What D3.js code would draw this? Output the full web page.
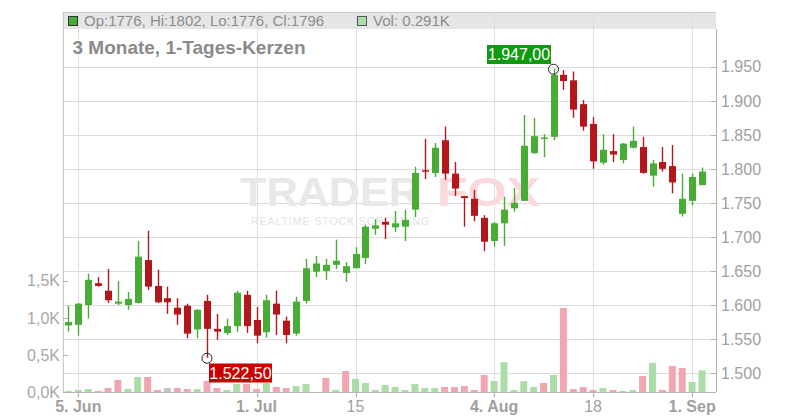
<!DOCTYPE html>
<html><head><meta charset="utf-8">
<script src="https://cdn.jsdelivr.net/npm/d3@7"></script>
<style>body{margin:0;background:#fff}svg{display:block;font-family:"Liberation Sans",Arial,sans-serif}</style>
</head><body>
<svg id="c" width="800" height="420"></svg>
<script>
const dates = ["2025-06-04","2025-06-05","2025-06-06","2025-06-09","2025-06-10","2025-06-11","2025-06-12","2025-06-13","2025-06-16","2025-06-17","2025-06-18","2025-06-19","2025-06-20","2025-06-23","2025-06-24","2025-06-25","2025-06-26","2025-06-27","2025-06-30",
"2025-07-01","2025-07-02","2025-07-03","2025-07-04","2025-07-07","2025-07-08","2025-07-09","2025-07-10","2025-07-11","2025-07-14","2025-07-15","2025-07-16","2025-07-17","2025-07-18","2025-07-21","2025-07-22","2025-07-23","2025-07-24","2025-07-25","2025-07-28","2025-07-29","2025-07-30","2025-07-31",
"2025-08-01","2025-08-04","2025-08-05","2025-08-06","2025-08-07","2025-08-08","2025-08-11","2025-08-12","2025-08-13","2025-08-14","2025-08-15","2025-08-18","2025-08-19","2025-08-20","2025-08-21","2025-08-22","2025-08-25","2025-08-26","2025-08-27","2025-08-28","2025-08-29",
"2025-09-01","2025-09-02"];
const open  = [1570,1571,1600,1632,1621,1602,1600,1603,1666,1628,1610,1596,1599,1564,1606,1565,1559,1569,1615,1578,1560,1602,1577,1558,1606,1649,1650,1659,1647,1654,1669,1712,1722,1714,1715,1740,1798,1794,1842,1793,1760,1756,1728,1694,1720,1742,1753,1823,1844,1847,1938,1930,1895,1866,1809,1826,1813,1831,1832,1790,1810,1804,1734,1753,1776];
const high  = [1599,1603,1646,1641,1653,1635,1619,1694,1709,1652,1627,1610,1602,1594,1615,1587,1580,1621,1621,1597,1615,1621,1583,1612,1668,1672,1668,1696,1663,1685,1718,1726,1728,1738,1740,1803,1844,1838,1862,1810,1760,1769,1732,1722,1759,1772,1879,1875,1851,1947,1945,1943,1901,1876,1851,1851,1838,1862,1847,1813,1832,1835,1793,1793,1802];
const low   = [1561,1555,1580,1627,1603,1600,1593,1602,1622,1603,1587,1571,1551,1551,1522.5,1549,1556,1560,1559,1544,1552,1556,1544,1555,1602,1641,1637,1653,1634,1654,1660,1703,1697,1707,1694,1729,1785,1788,1784,1760,1715,1723,1679,1686,1687,1737,1753,1822,1817,1842,1916,1875,1856,1800,1806,1810,1808,1830,1793,1774,1796,1764,1730,1746,1776];
const close = [1575,1602,1637,1628,1607,1605,1609,1671,1627,1604,1604,1586,1558,1593,1565,1561,1569,1618,1569,1555,1607,1586,1556,1605,1654,1661,1659,1665,1657,1675,1715,1717,1718,1720,1725,1794,1796,1831,1793,1771,1757,1731,1693,1720,1740,1750,1834,1848,1846,1938,1929,1887,1862,1811,1828,1821,1837,1841,1794,1808,1800,1780,1756,1788,1796];
const volume= [13,27,40,13,54,162,40,202,202,27,54,54,40,40,148,54,27,108,108,40,121,67,54,81,108,0,190,28,283,175,121,28,94,67,27,108,54,54,67,67,81,27,229,148,404,27,148,67,121,229,1132,40,67,27,54,27,13,27,216,391,27,350,323,135,291];
const prevClose = 1570;
const priceTicks = [1500,1550,1600,1650,1700,1750,1800,1850,1900,1950];
const volTicks = [0,500,1000,1500];
const dateTicks = ["2025-06-05","2025-07-01","2025-07-15","2025-08-04","2025-08-18","2025-09-01"];
const dateTickLabels = ["5. Jun","1. Jul","15","4. Aug","18","1. Sep"];
const dateTickBold = [true,true,false,true,false,true];
const hiMark = {date:"2025-08-12", value:1947, label:"1.947,00"};
const loMark = {date:"2025-06-24", value:1522.5, label:"1.522,50"};
const legendText = "Op:1776, Hi:1802, Lo:1776, Cl:1796";
const volLegendText = "Vol: 0.291K";
const title = "3 Monate, 1-Tages-Kerzen";

const svg = d3.select("#c");
const L = 63.3, R = 716, B = 392, LT = 12, LB = 29;
const GREEN = "#47ad34", RED = "#b3161b", VGREEN = "#acdca8", VRED = "#f0a7b0", VGRAY = "#c2c2c2";
const GRID = "#dcdcdc";

const x = d3.scaleLinear().domain([0, dates.length - 1]).range([68.4, 702]);
const xd = d => x(dates.indexOf(d));
const y = d3.scaleLinear().domain([1500, 1950]).range([373.1, 66.7]);
const yv = d3.scaleLinear().domain([0, 1500]).range([B, B - 111.3]);

// legend background
svg.append("rect").attr("x", L).attr("y", LT).attr("width", R - L).attr("height", LB - LT).attr("fill", "#e6e6e6");
svg.append("line").attr("x1", L).attr("x2", R).attr("y1", LT + 0.5).attr("y2", LT + 0.5).attr("stroke", "#c8c8c8");

// grids
svg.append("g").selectAll("line").data(priceTicks).join("line")
  .attr("x1", L).attr("x2", R).attr("y1", d => Math.round(y(d)) + 0.5).attr("y2", d => Math.round(y(d)) + 0.5)
  .attr("stroke", GRID);
svg.append("g").selectAll("line").data(dateTicks).join("line")
  .attr("x1", d => Math.round(xd(d)) + 0.5).attr("x2", d => Math.round(xd(d)) + 0.5)
  .attr("y1", LT).attr("y2", B).attr("stroke", GRID).attr("stroke-opacity", 0.9);

// watermark
const wm = svg.append("g");
wm.append("text").attr("x", 240).attr("y", 206).attr("font-size", 40).attr("font-weight", "bold")
  .attr("fill", "#e8e8e8").attr("textLength", 180).attr("lengthAdjust", "spacingAndGlyphs").text("TRADER");
wm.append("text").attr("x", 437).attr("y", 206).attr("font-size", 40).attr("font-weight", "bold")
  .attr("fill", "#fad8db").attr("textLength", 103).attr("lengthAdjust", "spacingAndGlyphs").text("FOX");
wm.append("text").attr("x", 251).attr("y", 225).attr("font-size", 10.5)
  .attr("fill", "#e2e2e2").attr("textLength", 178).attr("lengthAdjust", "spacing").text("REALTIME STOCK SCREENING");

// volume bars
svg.append("g").selectAll("rect").data(volume).join("rect")
  .attr("x", (d, i) => x(i) - 3.5).attr("width", 7)
  .attr("y", d => yv(d)).attr("height", d => B - yv(d))
  .attr("fill", (d, i) => {
    const pc = i === 0 ? prevClose : close[i - 1];
    return close[i] > pc ? VGREEN : close[i] < pc ? VRED : VGRAY;
  });

// candles
const cg = svg.append("g");
dates.forEach((d, i) => {
  const col = close[i] >= open[i] ? GREEN : RED;
  const cx = Math.round(x(i)) + 0.5;
  cg.append("line").attr("x1", cx).attr("x2", cx).attr("y1", y(high[i])).attr("y2", y(low[i]))
    .attr("stroke", col).attr("stroke-width", 1.4);
  const top = y(Math.max(open[i], close[i])), bot = y(Math.min(open[i], close[i]));
  cg.append("rect").attr("x", cx - 3.5).attr("width", 7).attr("y", top).attr("height", Math.max(1.5, bot - top))
    .attr("fill", col);
});

// axes lines
svg.append("line").attr("x1", L).attr("x2", L).attr("y1", LT).attr("y2", B).attr("stroke", "#c0c0c0");
svg.append("line").attr("x1", R + 0.5).attr("x2", R + 0.5).attr("y1", LB).attr("y2", B).attr("stroke", "#b0b0b0");
svg.append("line").attr("x1", L).attr("x2", R).attr("y1", B + 0.5).attr("y2", B + 0.5).attr("stroke", "#b8b8b8");

// right axis
const ra = svg.append("g");
ra.selectAll("line").data(priceTicks).join("line")
  .attr("x1", R - 5).attr("x2", R).attr("y1", d => Math.round(y(d)) + 0.5).attr("y2", d => Math.round(y(d)) + 0.5)
  .attr("stroke", "#b0b0b0");
ra.selectAll("text").data(priceTicks).join("text")
  .attr("x", 721).attr("y", d => y(d)).attr("dy", "0.36em").attr("font-size", 16).attr("fill", "#a0a0a0")
  .text(d => d3.format(",")(d).replace(",", "."));

// left axis
const la = svg.append("g");
la.selectAll("line").data(volTicks).join("line")
  .attr("x1", L).attr("x2", L + 5).attr("y1", d => Math.round(yv(d)) + 0.5).attr("y2", d => Math.round(yv(d)) + 0.5)
  .attr("stroke", "#b0b0b0");
la.selectAll("text").data(volTicks).join("text")
  .attr("x", 60).attr("y", d => yv(d)).attr("dy", "0.36em").attr("text-anchor", "end")
  .attr("font-size", 16).attr("fill", "#a8a8a8")
  .text(d => d3.format(".1f")(d / 1000).replace(".", ",") + "K");

// bottom axis
const ba = svg.append("g");
ba.selectAll("line").data(dateTicks).join("line")
  .attr("x1", d => Math.round(xd(d)) + 0.5).attr("x2", d => Math.round(xd(d)) + 0.5)
  .attr("y1", B).attr("y2", B + 5).attr("stroke", "#b0b0b0");
ba.selectAll("text").data(dateTicks).join("text")
  .attr("x", d => xd(d)).attr("y", 411.5).attr("text-anchor", "middle").attr("font-size", 16)
  .attr("font-weight", (d, i) => dateTickBold[i] ? "bold" : "normal").attr("fill", "#a0a0a0")
  .text((d, i) => dateTickLabels[i]);

// legend
svg.append("rect").attr("x", 68.5).attr("y", 16.5).attr("width", 9).attr("height", 9)
  .attr("fill", GREEN).attr("stroke", "#333").attr("stroke-width", 1);
svg.append("text").attr("x", 84).attr("y", 26).attr("font-size", 15).attr("fill", "#8c8c8c").text(legendText);
svg.append("rect").attr("x", 357.5).attr("y", 16.5).attr("width", 9).attr("height", 9)
  .attr("fill", VGREEN).attr("stroke", "#555").attr("stroke-width", 1);
svg.append("text").attr("x", 373).attr("y", 26).attr("font-size", 15).attr("fill", "#8c8c8c").text(volLegendText);

// title
svg.append("text").attr("x", 72.5).attr("y", 54).attr("font-size", 19).attr("font-weight", "bold")
  .attr("fill", "#8a8a8a").text(title);

// hi/lo markers
function marker(m, bx, by, bw, col) {
  svg.append("circle").attr("cx", xd(m.date)).attr("cy", y(m.value) + 0.5).attr("r", 5)
    .attr("fill", "none").attr("stroke", "#222").attr("stroke-width", 1);
  svg.append("rect").attr("x", bx).attr("y", by).attr("width", bw).attr("height", 19).attr("fill", col);
  svg.append("text").attr("x", bx + bw / 2).attr("y", by + 15).attr("text-anchor", "middle")
    .attr("font-size", 16).attr("fill", "#fff").text(m.label);
}
marker(hiMark, 487, 45, 64, "#109a10");
marker(loMark, 209, 363.5, 63, "#cc0000");
</script>
</body></html>
